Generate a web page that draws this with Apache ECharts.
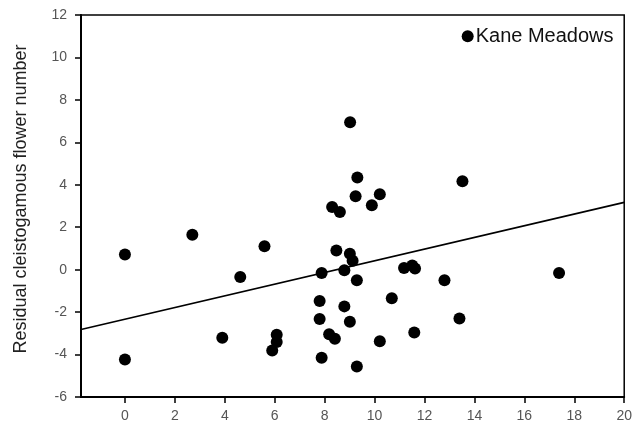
<!DOCTYPE html>
<html>
<head>
	<meta charset="UTF-8">
	<title>Residual cleistogamous flower number</title>
	<script src="https://cdn.jsdelivr.net/npm/echarts@6/dist/echarts.min.js"></script>
	<style>
		html, body { margin: 0; padding: 0; background: #fff; }
		#main { width: 635px; height: 430px; }
	</style>
</head>
<body>
<div id="main"></div>

<script>
	// points
	var xs = [0, 0, 2.70, 4.62, 5.59, 3.90, 5.90, 6.08, 6.08,
		7.88, 7.80, 7.80, 7.88, 8.18, 8.41, 8.47, 9.01, 9.12, 8.79, 9.29,
		8.79, 9.01, 9.29, 10.21, 10.69, 11.18, 11.51, 11.62, 11.59, 12.80,
		13.40, 17.39, 9.02, 9.31, 9.24, 10.21, 9.89, 8.30, 8.61, 13.52];
	var ys = [0.72, -4.23, 1.65, -0.35, 1.10, -3.21, -3.81, -3.07, -3.41,
		-0.16, -1.48, -2.33, -4.15, -3.04, -3.26, 0.90, 0.75, 0.42, -0.03, -0.50,
		-1.73, -2.45, -4.56, -3.37, -1.35, 0.08, 0.20, 0.05, -2.96, -0.50,
		-2.30, -0.16, 6.95, 4.34, 3.46, 3.55, 3.03, 2.95, 2.72, 4.17];
	var kaneX = 13.73;
	var kaneY = 11.0;
	var kaneName = 'Kane Meadows';

	// fitted line end points
	var lineX = [-1.76, 20];
	var lineY = [-2.82, 3.17];

	var xTicks = [0, 2, 4, 6, 8, 10, 12, 14, 16, 18, 20];

	var pts = [];
	for (var i = 0; i < xs.length; i++) {
		pts.push([xs[i], ys[i]]);
	}
	pts.push({
		value: [kaneX, kaneY],
		label: {
			show: true,
			position: 'right',
			distance: 2,
			formatter: kaneName,
			fontFamily: 'Arial, Liberation Sans',
			fontSize: 20,
			color: '#111'
		}
	});

	var linePts = [];
	for (var j = 0; j < lineX.length; j++) {
		linePts.push([lineX[j], lineY[j]]);
	}

	var myChart = echarts.init(document.getElementById('main'));

	var option = {
		animation: false,
		backgroundColor: '#fff',
		grid: {
			left: 81, right: 8, top: 15, bottom: 33,
			show: true,
			borderColor: '#000',
			borderWidth: 1.5
		},
		xAxis: {
			type: 'value',
			min: -1.76,
			max: 20,
			splitLine: { show: false },
			axisLine: { show: true, onZero: false, lineStyle: { color: '#000', width: 2 } },
			axisTick: { show: true, length: 6, customValues: xTicks, lineStyle: { color: '#000', width: 1.5 } },
			axisLabel: {
				customValues: xTicks,
				margin: 12,
				color: '#555',
				fontFamily: 'Arial, Liberation Sans',
				fontSize: 14
			}
		},
		yAxis: {
			type: 'value',
			min: -6,
			max: 12,
			interval: 2,
			name: 'Residual cleistogamous flower number',
			nameLocation: 'middle',
			nameGap: 51,
			nameTextStyle: {
				color: '#222',
				fontFamily: 'Arial, Liberation Sans',
				fontSize: 18,
				padding: [0, 0, 0, 14]
			},
			splitLine: { show: false },
			axisLine: { show: true, onZero: false, lineStyle: { color: '#000', width: 2 } },
			axisTick: { show: true, length: 6, lineStyle: { color: '#000', width: 1.5 } },
			axisLabel: {
				margin: 14,
				color: '#555',
				fontFamily: 'Arial, Liberation Sans',
				fontSize: 14
			}
		},
		series: [
			{
				type: 'line',
				data: linePts,
				symbol: 'none',
				lineStyle: { color: '#000', width: 1.6 },
				z: 1
			},
			{
				type: 'scatter',
				data: pts,
				symbol: 'circle',
				symbolSize: 12,
				itemStyle: { color: '#000', opacity: 1 },
				z: 2
			}
		]
	};

	myChart.setOption(option);
</script>
</body>
</html>
